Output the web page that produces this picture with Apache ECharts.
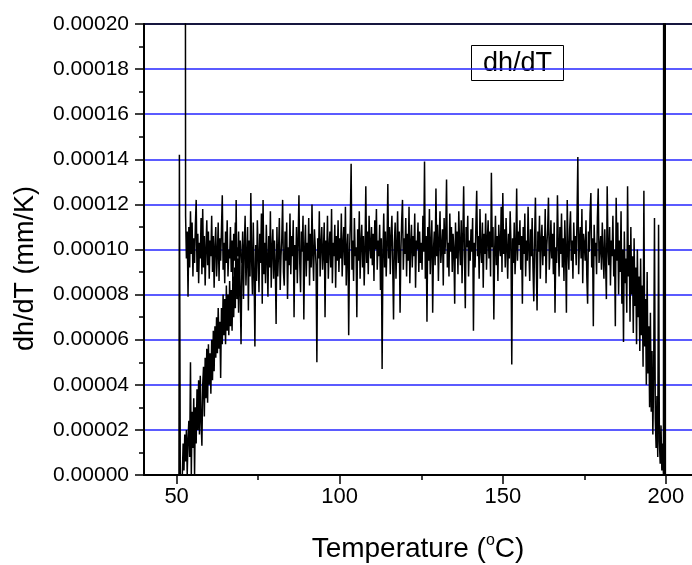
<!DOCTYPE html>
<html><head><meta charset="utf-8">
<script src="https://cdn.jsdelivr.net/npm/echarts@6/dist/echarts.min.js"></script>
<style>html,body{margin:0;padding:0;background:#fff}#c{width:692px;height:565px}</style>
</head><body><div id="c"></div>
<script>
// values of dh/dT in units of 1e-6 mm/K; temperatures in degC
const STEP = 0.25;
const xMajorTicks = [50, 100, 150, 200];
const xMinorTicks = [75, 125, 175];
const yTickLabels = ['0.00000','0.00002','0.00004','0.00006','0.00008','0.00010','0.00012','0.00014','0.00016','0.00018','0.00020'];

// spike at the start
const leadT = [50.7, 50.85, 51.05, 51.15, 51.5];
const leadV = [-20, 142, 40, -20, -20];

// rising lower branch
const lowerStart = 51.75;
const lowerV = [0,14,2,18,6,20,0,16,24,8,
  50,0,28,12,34,0,30,14,38,20,
  42,18,44,24,13,40,48,26,52,34,
  56,32,58,40,54,36,60,42,64,46,
  66,52,70,54,74,56,68,43,74,58,
  80,62,78,58,84,64,80,62,86,66,
  82,64,88,70,92,74,122,78,96,72,
  100,82,58];

// upper branch near the start
const upperStart = 52.5;
const upperV = [600,115,96,108,79,110,92,117,98,112,
  88,105,94,111,122,90,107,85,103,96,
  114,89,118,92,106,84,100,113,93,108,
  87,104,97,115,90,106,83,101,110,88,
  98,112,86,105,95,109,124,91,103,85,
  108,94,113,88,100,96,110,90,104,86,
  107,95,112,92,101,97,108,89,104,99,
  94];

// plateau
const p70Start = 70;
const p70 = [92,108,78,101,115,84,97,110,73,104,88,125,95,80,112,90,57,102,86,113,
  98,81,107,94,116,76,122,89,103,85,111,96,79,106,92,117,83,100,109,87,
  104,93,67,110,88,99,114,82,97,105,122,90,84,108,95,112,78,101,93,116,
  89,106,97,113,70,102,91,110,85,104,124,94,81,108,99,115,69,100,111,88,
  103,95,114,84,107,92,120,98,86,109,101,93,50,105,96,117,88,102,110,91];
const p95Start = 95;
const p95 = [99,112,70,104,94,115,87,101,108,92,118,85,103,97,111,83,106,95,113,90,
  105,96,116,88,102,110,93,119,84,100,107,62,98,112,138,91,104,86,114,97,
  101,70,109,95,117,87,103,111,92,106,84,99,128,94,108,89,115,102,96,110,
  93,107,86,113,100,118,91,104,97,111,82,105,47,99,116,92,108,88,102,129,
  96,110,89,106,115,93,69,103,112,87,101,117,94,108,72,99,113,122,91,105];
const p120Start = 120;
const p120 = [98,114,88,107,95,119,85,102,111,92,106,97,116,83,104,100,112,90,108,94,
  103,91,115,99,139,87,106,68,110,95,118,89,102,113,72,100,108,93,127,97,
  111,86,104,117,94,101,109,84,114,98,106,131,92,103,88,116,99,110,90,107,
  100,76,112,96,108,89,117,102,93,113,85,105,128,97,74,110,101,115,88,104,
  95,109,99,114,64,103,92,111,126,97,106,87,118,100,94,112,83,107,98,116];
const p145Start = 145;
const p145 = [91,104,113,96,108,88,134,101,110,69,99,115,93,106,86,111,102,97,119,90,
  125,98,109,92,114,101,87,107,96,117,103,49,105,94,112,89,100,127,95,108,
  102,113,91,106,76,110,98,116,88,104,95,119,100,86,109,97,114,92,77,105,
  123,94,73,108,99,115,87,104,111,93,106,97,118,85,102,109,123,91,100,113,
  96,107,89,112,72,101,94,124,103,88,110,98,116,92,105,86,113,99,72,122];
const p170Start = 170;
const p170 = [100,91,109,117,95,104,87,112,98,106,93,114,141,89,103,110,96,118,85,107,
  102,95,113,88,76,108,99,116,125,92,105,66,111,97,103,89,114,127,94,100,
  106,91,112,98,87,109,95,78,128,101,93,110,84,104,97,115,88,100,66,123];

// decline near the end
const declStart = 185;
const declV = [95,112,80,104,90,117,76,100,59,108,
  85,96,72,128,88,102,68,110,80,97,
  63,105,75,92,58,100,70,88,55,96,
  62,84,48,126,57,78,40,90,45,66,
  30,72,28,55,18,44,114,25,12,35,
  8,111,15,5,22,2,14,0];

// final spikes
const tailT = [199.4, 199.55, 199.7, 199.85];
const tailV = [600, -20, 600, -20];

function seq(start, vals) { return vals.map((v, i) => [+(start + i * STEP).toFixed(2), v]); }
function pairs(ts, vs) { return ts.map((t, i) => [t, vs[i]]); }

const mainData = [].concat(
  pairs(leadT, leadV), seq(lowerStart, lowerV), seq(p70Start, p70), seq(p95Start, p95),
  seq(p120Start, p120), seq(p145Start, p145), seq(p170Start, p170), seq(declStart, declV),
  pairs(tailT, tailV));
const upperData = seq(upperStart, upperV);

const FONT = 'Liberation Sans, Arial, Helvetica, sans-serif';
const BLUE = '#2424ff';
const X_MIN = 40, X_MAX = 208;
const chart = echarts.init(document.getElementById('c'), null, {renderer: 'canvas'});
chart.setOption({
  animation: false,
  backgroundColor: '#fff',
  grid: {left: 144, top: 24, right: 0, height: 451, show: false, outerBoundsMode: 'none', containLabel: false},
  xAxis: [{
    type: 'value', min: X_MIN, max: X_MAX, position: 'bottom', z: 3,
    name: 'Temperature ({sup|o}C)', nameLocation: 'middle', nameGap: 58,
    nameTextStyle: {fontFamily: FONT, fontSize: 28, color: '#000', lineHeight: 32,
      rich: {sup: {fontFamily: FONT, fontSize: 16, color: '#000', verticalAlign: 'top', lineHeight: 32, padding: [0, 0, 11, 0]}}},
    axisLine: {show: true, onZero: false, lineStyle: {color: '#000', width: 2}},
    axisTick: {show: true, inside: false, length: 9, customValues: xMajorTicks, lineStyle: {color: '#000', width: 1.5}},
    axisLabel: {show: true, customValues: xMajorTicks, fontFamily: FONT, fontSize: 22, color: '#000', margin: 11},
    splitLine: {show: false}
  }, {
    type: 'value', min: X_MIN, max: X_MAX, position: 'bottom', gridIndex: 0, z: 3,
    axisLine: {show: false},
    axisTick: {show: true, inside: false, length: 5, customValues: xMinorTicks, lineStyle: {color: '#000', width: 1.5}},
    axisLabel: {show: false},
    splitLine: {show: false}
  }, {
    type: 'value', min: X_MIN, max: X_MAX, position: 'top', gridIndex: 0, z: 3,
    axisLine: {show: true, onZero: false, lineStyle: {color: '#000', width: 1.5}},
    axisTick: {show: false},
    axisLabel: {show: false},
    splitLine: {show: false}
  }],
  yAxis: {
    type: 'value', min: 0, max: 200, interval: 20, z: 1,
    name: 'dh/dT (mm/K)', nameLocation: 'middle', nameGap: 105,
    nameTextStyle: {fontFamily: FONT, fontSize: 27, color: '#000', padding: [0, 38, 0, 0]},
    axisLine: {show: true, onZero: false, lineStyle: {color: '#000', width: 2}},
    axisTick: {show: true, inside: false, length: 9, lineStyle: {color: '#000', width: 1.5}},
    minorTick: {show: true, splitNumber: 2, length: 5, lineStyle: {color: '#000', width: 1.5}},
    axisLabel: {fontFamily: FONT, fontSize: 21, color: '#000', margin: 15,
      formatter: v => yTickLabels[Math.round(v / 20)]},
    splitLine: {show: true, lineStyle: {width: 1.6, color: BLUE}}
  },
  graphic: [{
    type: 'group', z: 100,
    children: [
      {type: 'rect', shape: {x: 471.5, y: 45.5, width: 92, height: 35}, style: {fill: '#fff', stroke: '#000', lineWidth: 1}},
      {type: 'text', x: 517.5, y: 63.5, style: {text: 'dh/dT', fontFamily: FONT, fontSize: 27, fill: '#000', align: 'center', verticalAlign: 'middle'}}
    ]
  }],
  series: [{
    name: 'dh/dT', type: 'line', xAxisIndex: 0, showSymbol: false, symbol: 'none',
    lineStyle: {color: '#000', width: 1.5}, data: mainData, clip: true, z: 2
  }, {
    name: 'dh/dT upper', type: 'line', xAxisIndex: 0, showSymbol: false, symbol: 'none',
    lineStyle: {color: '#000', width: 1.5}, data: upperData, clip: true, z: 2
  }]
});
</script></body></html>
